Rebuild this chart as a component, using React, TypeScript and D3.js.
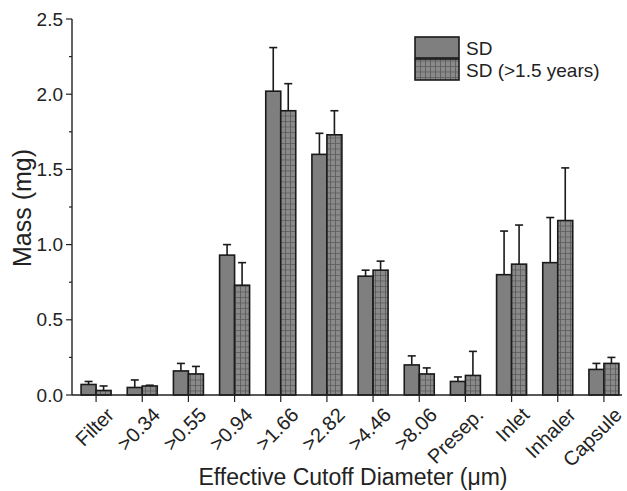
import React, { useEffect, useRef } from 'react';
import * as d3 from 'd3';

const categories = ['Filter', '>0.34', '>0.55', '>0.94', '>1.66', '>2.82', '>4.46', '>8.06', 'Presep.', 'Inlet', 'Inhaler', 'Capsule'];
const sdMean = [0.07, 0.05, 0.16, 0.93, 2.02, 1.60, 0.79, 0.20, 0.09, 0.80, 0.88, 0.17];
const sdErr = [0.02, 0.05, 0.05, 0.07, 0.29, 0.14, 0.04, 0.06, 0.03, 0.29, 0.30, 0.04];
const sdOldMean = [0.03, 0.06, 0.14, 0.73, 1.89, 1.73, 0.83, 0.14, 0.13, 0.87, 1.16, 0.21];
const sdOldErr = [0.03, 0.005, 0.05, 0.15, 0.18, 0.16, 0.06, 0.04, 0.16, 0.26, 0.35, 0.04];
const seriesNames = ['SD', 'SD (>1.5 years)'];
const yTicks = [0, 0.5, 1.0, 1.5, 2.0, 2.5];

const W = 627, H = 491;
const FONT = 'Liberation Sans, Arial, sans-serif';

export default function App() {
  const ref = useRef<SVGSVGElement>(null);

  useEffect(() => {
    const svg = d3.select(ref.current);
    svg.selectAll('*').remove();

    const x = d3.scaleBand<string>().domain(categories).range([73, 627]);
    const y = d3.scaleLinear().domain([0, 2.5]).range([395, 19]);
    const barW = 15;

    const defs = svg.append('defs');
    const pat = defs.append('pattern')
      .attr('id', 'grid')
      .attr('patternUnits', 'userSpaceOnUse')
      .attr('width', 5).attr('height', 5.5);
    pat.append('rect').attr('width', 5).attr('height', 5.5).attr('fill', '#8a8a8a');
    pat.append('path').attr('d', 'M0,0.5 H5 M0.5,0 V5.5')
      .attr('stroke', '#5a5a5a').attr('stroke-width', 0.8);

    const g = svg.append('g');

    const series = [
      { mean: sdMean, err: sdErr, fill: '#7f7f7f', off: -barW },
      { mean: sdOldMean, err: sdOldErr, fill: 'url(#grid)', off: 0 },
    ];

    series.forEach(s => {
      const cx = (i: number) => (x(categories[i]) as number) + x.bandwidth() / 2 + s.off;
      // error bars (upper only)
      categories.forEach((c, i) => {
        const xm = cx(i) + barW / 2;
        const top = y(s.mean[i] + s.err[i]);
        g.append('line').attr('x1', xm).attr('x2', xm)
          .attr('y1', y(s.mean[i])).attr('y2', top)
          .attr('stroke', '#1a1a1a').attr('stroke-width', 1.6);
        g.append('line').attr('x1', xm - 4).attr('x2', xm + 4)
          .attr('y1', top).attr('y2', top)
          .attr('stroke', '#1a1a1a').attr('stroke-width', 1.6);
      });
      g.selectAll(null).data(s.mean).enter().append('rect')
        .attr('x', (d, i) => cx(i))
        .attr('y', d => y(d))
        .attr('width', barW)
        .attr('height', d => y(0) - y(d))
        .attr('fill', s.fill)
        .attr('stroke', '#1a1a1a')
        .attr('stroke-width', 1.6);
    });

    // y axis
    const ya = g.append('g');
    ya.append('line').attr('x1', 72).attr('x2', 72).attr('y1', y(0)).attr('y2', y(2.5))
      .attr('stroke', '#222').attr('stroke-width', 1.4);
    d3.range(0, 2.51, 0.25).forEach(v => {
      const major = Math.abs(v * 2 - Math.round(v * 2)) < 1e-6;
      ya.append('line').attr('x1', 72).attr('x2', major ? 66 : 69)
        .attr('y1', y(v)).attr('y2', y(v)).attr('stroke', '#222').attr('stroke-width', 1.2);
    });
    ya.selectAll('text').data(yTicks).enter().append('text')
      .attr('x', 63).attr('y', d => y(d) + 6.5)
      .attr('text-anchor', 'end')
      .attr('font-family', FONT).attr('font-size', 19).attr('fill', '#222')
      .text(d => d.toFixed(1));

    // x axis
    const xa = g.append('g');
    xa.append('line').attr('x1', 72).attr('x2', 622).attr('y1', y(0)).attr('y2', y(0))
      .attr('stroke', '#222').attr('stroke-width', 1.4);
    categories.forEach(c => {
      const cx = (x(c) as number) + x.bandwidth() / 2;
      xa.append('line').attr('x1', cx).attr('x2', cx).attr('y1', y(0) - 7).attr('y2', y(0) + 7)
        .attr('stroke', '#222').attr('stroke-width', 1.2);
      xa.append('text')
        .attr('transform', `translate(${cx + 9},${y(0) + 11}) rotate(-45)`)
        .attr('text-anchor', 'end')
        .attr('dy', '0.72em')
        .attr('font-family', FONT).attr('font-size', 20).attr('fill', '#222')
        .text(c);
    });

    // axis titles
    svg.append('text')
      .attr('transform', `translate(31,208) rotate(-90)`)
      .attr('text-anchor', 'middle')
      .attr('font-family', FONT).attr('font-size', 25).attr('fill', '#222')
      .text('Mass (mg)');
    svg.append('text')
      .attr('x', 353).attr('y', 485)
      .attr('text-anchor', 'middle')
      .attr('font-family', FONT).attr('font-size', 23).attr('fill', '#222')
      .text('Effective Cutoff Diameter (μm)');

    // legend
    const lg = svg.append('g');
    const fills = ['#7f7f7f', 'url(#grid)'];
    seriesNames.forEach((n, i) => {
      lg.append('rect').attr('x', 415).attr('y', 37 + i * 22)
        .attr('width', 44).attr('height', 21)
        .attr('fill', fills[i]).attr('stroke', '#1a1a1a').attr('stroke-width', 1.6);
      lg.append('text').attr('x', 466).attr('y', 55 + i * 22)
        .attr('font-family', FONT).attr('font-size', 19).attr('fill', '#222')
        .text(n);
    });
  }, []);

  return <svg ref={ref} width={W} height={H} style={{ position: 'absolute', left: 0, top: 0, background: '#fff' }} />;
}
